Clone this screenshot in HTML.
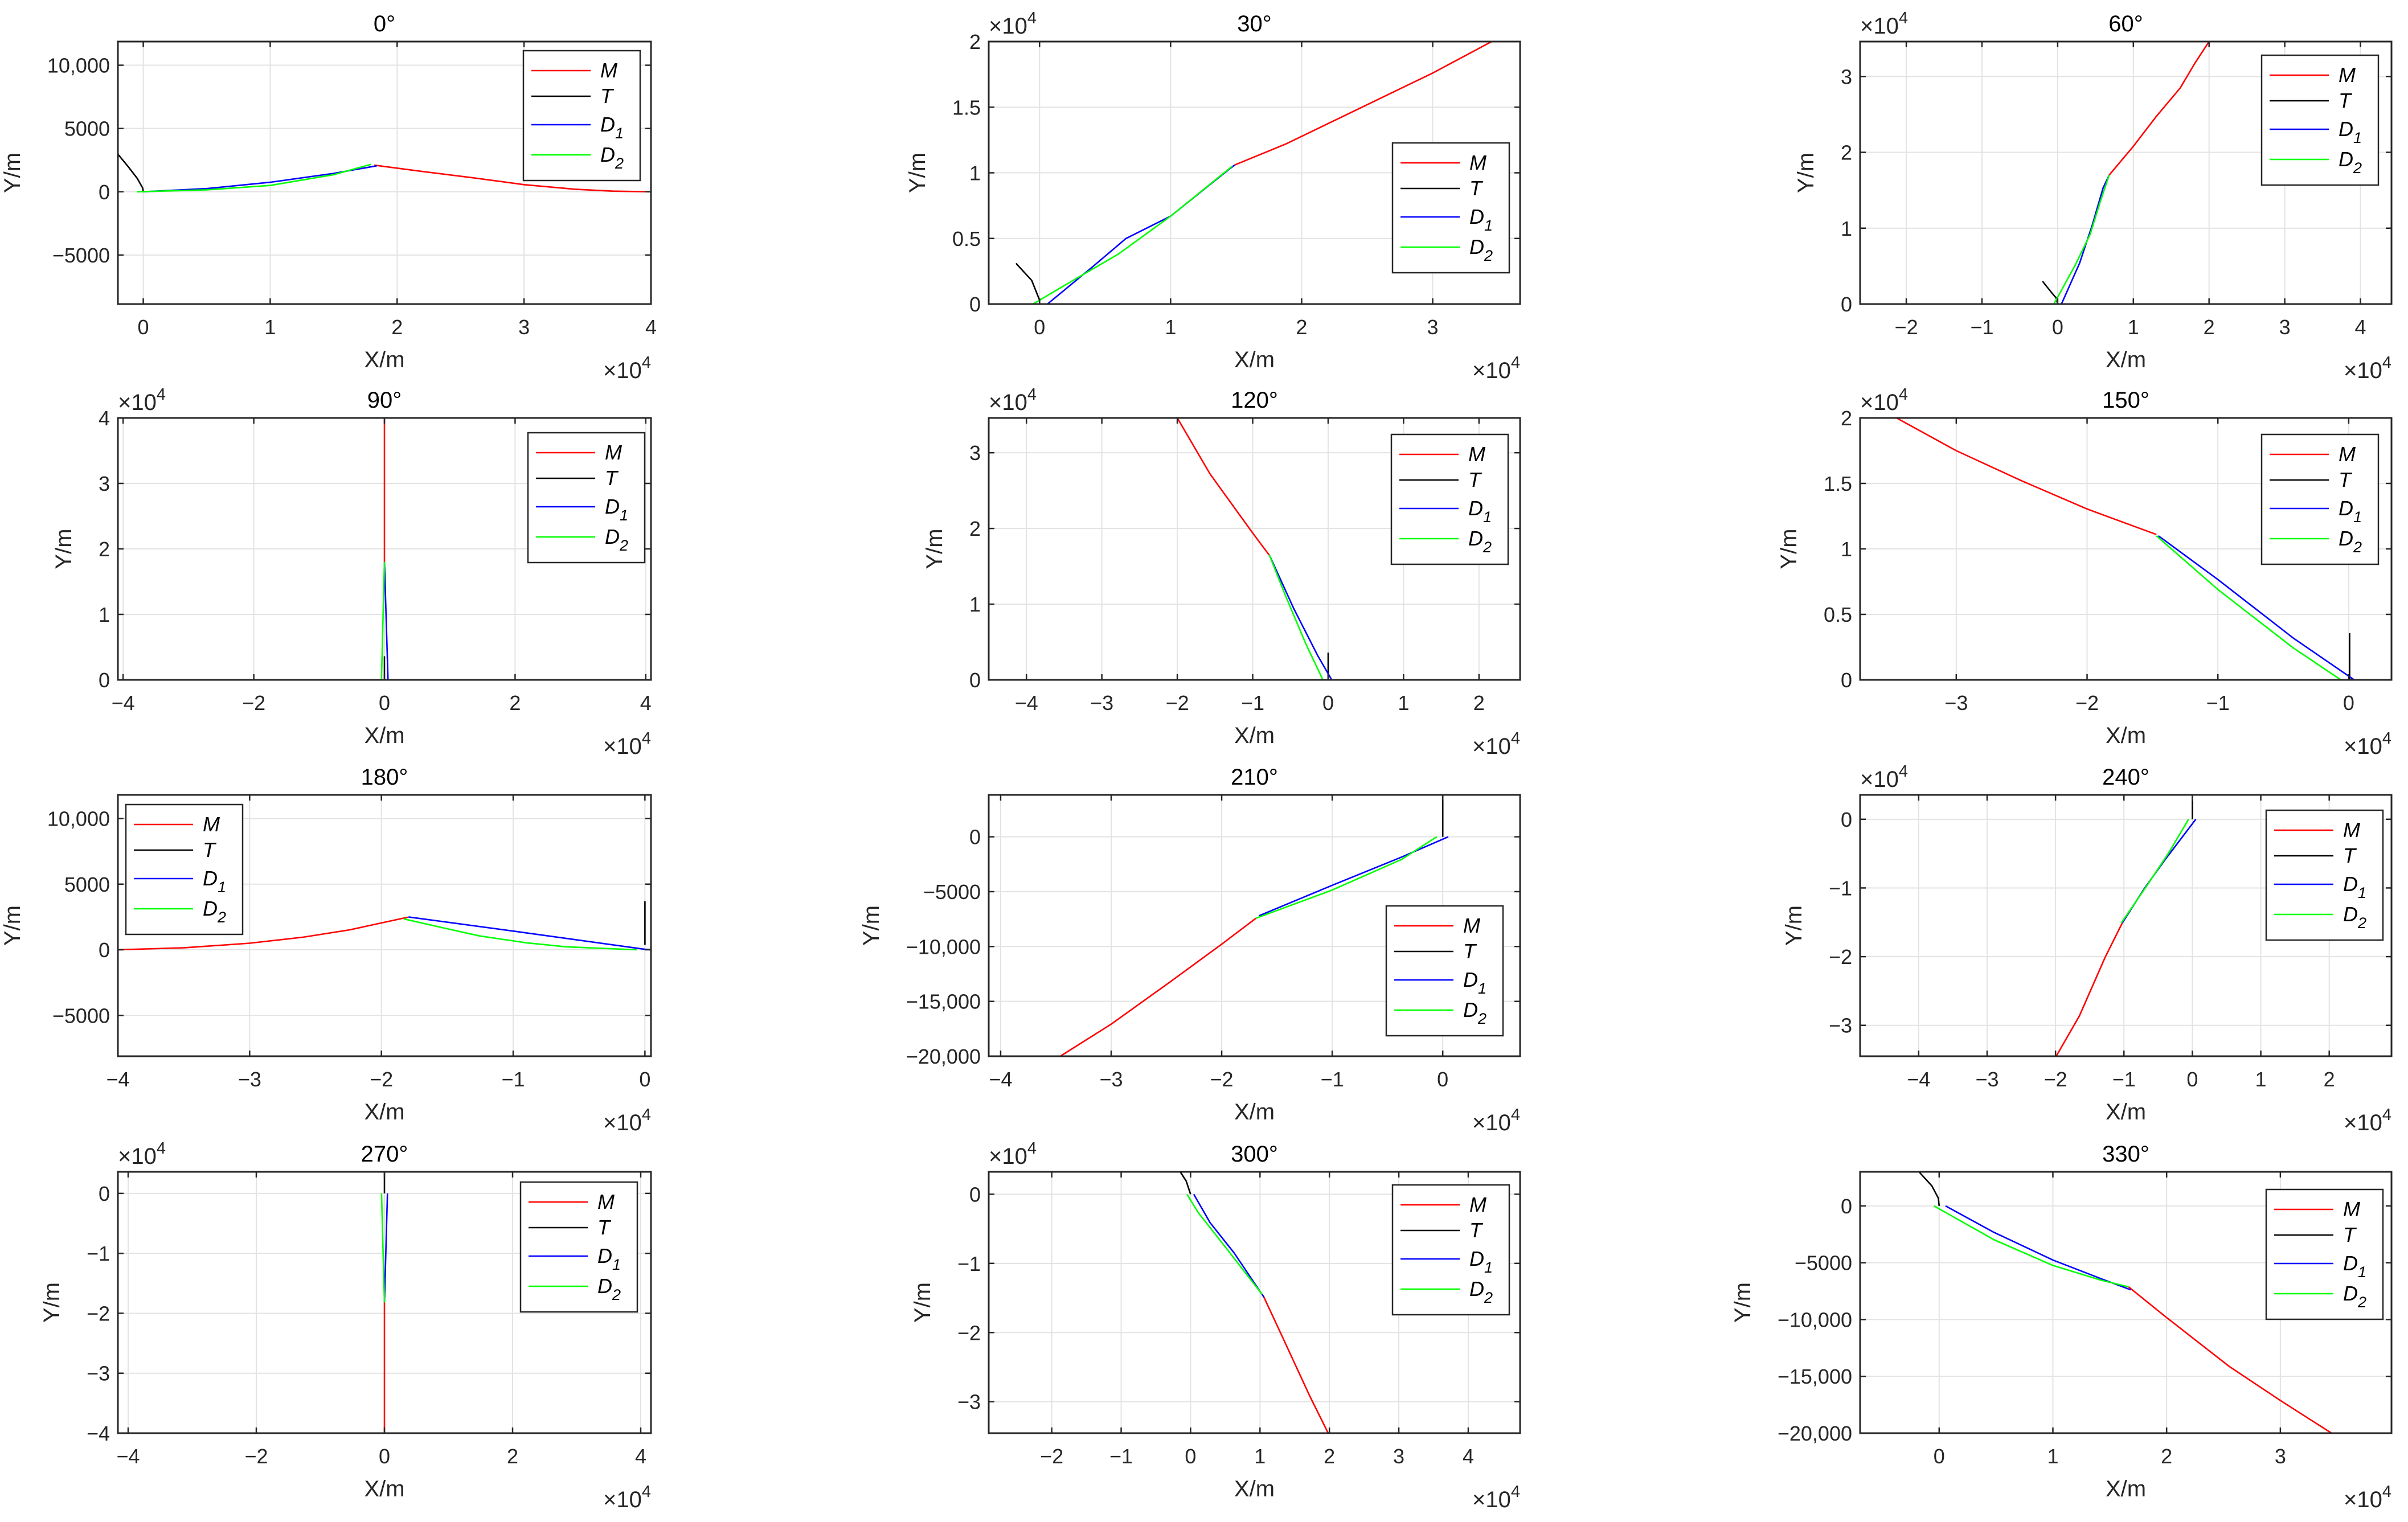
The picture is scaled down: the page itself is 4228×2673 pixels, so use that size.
<!DOCTYPE html>
<html><head><meta charset="utf-8"><title>Trajectories</title>
<style>
html,body{margin:0;padding:0;background:#fff;}
svg{display:block;font-family:"Liberation Sans",Arial,sans-serif;}
</style></head>
<body>
<svg id="fig" xmlns="http://www.w3.org/2000/svg" width="4228" height="2673" viewBox="0 0 4228 2673">
<rect x="0" y="0" width="4228" height="2673" fill="#fff"/>
</svg>
<script>
// ---- data (meters) ----
const M0=[[18200,2100],[22000,1600],[26000,1100],[30000,560],[34000,200],[37000,50],[40000,0]];
const T0=[[-2000,2970],[-1200,2000],[-480,1060],[-50,300],[0,0]];
const D1_0=[[0,0],[5000,250],[10000,750],[15000,1450],[18400,2050]];
const D2_0=[[-500,0],[5000,150],[10000,500],[15000,1350],[17960,2170]];

const M30=[[14900,10600],[18800,12200],[24600,15000],[30000,17600],[34500,20000]];
const T30=[[-1800,3100],[-600,1800],[0,300],[0,0]];
const D1_30=[[600,0],[4000,2800],[6600,5000],[10000,6700],[14500,10300],[14900,10600]];
const D2_30=[[-500,0],[1700,1300],[6000,3800],[10000,6700],[14700,10500]];

const M60=[[6800,17000],[10000,20800],[13000,24700],[16200,28500],[18100,31700],[20000,34600]];
const T60=[[-2000,3000],[-800,1500],[-200,800],[0,0]];
const D1_60=[[500,0],[2900,5400],[4600,10500],[6000,15300],[6800,17000]];
const D2_60=[[-500,0],[2300,5100],[4300,9200],[5600,13400],[6800,17000]];

const M90=[[0,18000],[0,40000]];
const T90=[[0,0],[0,3600]];
const D1_90=[[550,0],[0,18000]];
const D2_90=[[-450,0],[0,18000]];

const M120=[[-20000,34600],[-15660,27200],[-10000,19400],[-7830,16500]];
const T120=[[0,0],[0,3600]];
const D1_120=[[-7800,16500],[-4550,9400],[-1380,3200],[480,0]];
const D2_120=[[-7800,16500],[-5600,11000],[-2960,4750],[-690,0]];

const M150=[[-34570,20000],[-30000,17500],[-25000,15200],[-20000,13050],[-14700,11100]];
const T150=[[70,3570],[70,0]];
const D1_150=[[-14550,11000],[-10000,7660],[-4250,3200],[420,0]];
const D2_150=[[-14700,11000],[-10000,6900],[-4250,2450],[-600,0]];

const M180=[[-40000,0],[-35000,150],[-30000,500],[-26000,950],[-22400,1518],[-18000,2480]];
const T180=[[0,3700],[0,370]];
const D1_180=[[-17950,2500],[-10000,1425],[0,37],[460,0]];
const D2_180=[[-18300,2350],[-15000,1600],[-12550,1055],[-9000,530],[-5930,222],[-630,0]];

const M210=[[-34600,-20000],[-30000,-17080],[-24660,-13220],[-20000,-9785],[-16900,-7425]];
const T210=[[0,3730],[0,0]];
const D1_210=[[-16640,-7210],[-10000,-4420],[-3720,-1845],[500,0]];
const D2_210=[[-16900,-7425],[-10000,-4850],[-3720,-2060],[-540,0]];

const M240=[[-10250,-15100],[-12750,-20100],[-16500,-28600],[-19900,-34500]];
const T240=[[0,3550],[0,0]];
const D1_240=[[500,0],[-4000,-5900],[-7100,-10200],[-10250,-15100]];
const D2_240=[[-560,0],[-3400,-4800],[-6500,-9450],[-10400,-15100]];

const M270=[[0,-18200],[0,-40000]];
const T270=[[0,0],[0,3600]];
const D1_270=[[470,0],[0,-18200]];
const D2_270=[[-450,0],[0,-18200]];

const M300=[[10460,-14650],[13160,-20470],[17180,-29200],[19830,-34550]];
const T300=[[-1490,3240],[-630,1900],[0,0]];
const D1_300=[[460,0],[2800,-4100],[6260,-8470],[10570,-14900]];
const D2_300=[[-520,0],[1100,-2650],[5100,-7750],[10300,-14470]];

const M330=[[16650,-7124],[20000,-9828],[25500,-14120],[30000,-17124],[34500,-20000]];
const T330=[[-1770,3000],[-640,1760],[-75,690],[0,0]];
const D1_330=[[560,0],[4800,-2318],[10000,-4764],[14200,-6395],[16840,-7382]];
const D2_330=[[-450,0],[4800,-2961],[10000,-5236],[14200,-6524],[16650,-7124]];

// tick values (display units; ×1e4 when exp flag set)
const xt0=[0,1,2,3,4], yt0=[-5000,0,5000,10000];
const xt30=[0,1,2,3], yt30=[0,0.5,1,1.5,2];
const xt60=[-2,-1,0,1,2,3,4], yt60=[0,1,2,3];
const xt90=[-4,-2,0,2,4], yt90=[0,1,2,3,4];
const xt120=[-4,-3,-2,-1,0,1,2], yt120=[0,1,2,3];
const xt150=[-3,-2,-1,0], yt150=[0,0.5,1,1.5,2];
const xt180=[-4,-3,-2,-1,0], yt180=[-5000,0,5000,10000];
const xt210=[-4,-3,-2,-1,0], yt210=[-20000,-15000,-10000,-5000,0];
const xt240=[-4,-3,-2,-1,0,1,2], yt240=[-3,-2,-1,0];
const xt270=[-4,-2,0,2,4], yt270=[-4,-3,-2,-1,0];
const xt300=[-2,-1,0,1,2,3,4], yt300=[-3,-2,-1,0];
const xt330=[0,1,2,3], yt330=[-20000,-15000,-10000,-5000,0];

const titles=["0°","30°","60°","90°","120°","150°","180°","210°","240°","270°","300°","330°"];

// ---- layout (geometry, not data) ----
const C=[[207,1143],[1736,2669],[3266,4199]];
const R=[[73,534],[734,1194],[1396,1855],[2058,2517]];
const panels=[
 {s:[M0,T0,D1_0,D2_0],xt:xt0,yt:yt0,ye:false,xr:[-2000,40000],yr:[-8876,11870],c:0,r:0,lg:[919,89]},
 {s:[M30,T30,D1_30,D2_30],xt:xt30,yt:yt30,ye:true,xr:[-3880,36670],yr:[0,20000],c:1,r:0,lg:[2445,251]},
 {s:[M60,T60,D1_60,D2_60],xt:xt60,yt:yt60,ye:true,xr:[-26100,44100],yr:[0,34600],c:2,r:0,lg:[3971,97]},
 {s:[M90,T90,D1_90,D2_90],xt:xt90,yt:yt90,ye:true,xr:[-40800,40800],yr:[0,40000],c:0,r:1,lg:[927,760]},
 {s:[M120,T120,D1_120,D2_120],xt:xt120,yt:yt120,ye:true,xr:[-45000,25450],yr:[0,34600],c:1,r:1,lg:[2443,763]},
 {s:[M150,T150,D1_150,D2_150],xt:xt150,yt:yt150,ye:true,xr:[-37350,3270],yr:[0,20000],c:2,r:1,lg:[3971,763]},
 {s:[M180,T180,D1_180,D2_180],xt:xt180,yt:yt180,ye:false,xr:[-40000,460],yr:[-8111,11800],c:0,r:2,lg:[221,1413]},
 {s:[M210,T210,D1_210,D2_210],xt:xt210,yt:yt210,ye:false,xr:[-41080,7000],yr:[-20000,3820],c:1,r:2,lg:[2434,1591]},
 {s:[M240,T240,D1_240,D2_240],xt:xt240,yt:yt240,ye:true,xr:[-48560,29100],yr:[-34500,3550],c:2,r:2,lg:[3979,1423]},
 {s:[M270,T270,D1_270,D2_270],xt:xt270,yt:yt270,ye:true,xr:[-41600,41600],yr:[-40000,3600],c:0,r:3,lg:[914,2076]},
 {s:[M300,T300,D1_300,D2_300],xt:xt300,yt:yt300,ye:true,xr:[-29080,47470],yr:[-34550,3240],c:1,r:3,lg:[2445,2081]},
 {s:[M330,T330,D1_330,D2_330],xt:xt330,yt:yt330,ye:false,xr:[-6950,39770],yr:[-20000,3000],c:2,r:3,lg:[3979,2089]}
];
const colors=["#ff0000","#000000","#0000ff","#00ff00"];
const snames=["M","T","D1","D2"];
const NS="http://www.w3.org/2000/svg";
const svg=document.getElementById('fig');
function mk(tag,attrs,parent){const e=document.createElementNS(NS,tag);for(const k in attrs)e.setAttribute(k,attrs[k]);(parent||svg).appendChild(e);return e;}
function fmt(v){const a=Math.abs(v);let s=a>=10000?a.toLocaleString('en-US'):String(a);return (v<0?"\u2212":"")+s;}
function tw(s){let w=0;for(const ch of s){w+= (ch==','||ch=='.')?10:(ch=='\u2212'?21:20);}return w;}

panels.forEach((p,i)=>{
 const l=C[p.c][0],r=C[p.c][1],t=R[p.r][0],b=R[p.r][1];
 const sx=v=>l+(v-p.xr[0])/(p.xr[1]-p.xr[0])*(r-l);
 const sy=v=>b-(v-p.yr[0])/(p.yr[1]-p.yr[0])*(b-t);
 const g=mk('g',{});
 
 
 const xm=1e4, ym=p.ye?1e4:1;
 p.xt.forEach(v=>{const x=sx(v*xm);const ln=mk('line',{x1:x,x2:x,y1:t,y2:b,stroke:'#e3e3e3','stroke-width':2},g);
  });
 p.yt.forEach(v=>{const y=sy(v*ym);const ln=mk('line',{x1:l,x2:r,y1:y,y2:y,stroke:'#e3e3e3','stroke-width':2},g);
  });
 const cp=mk('clipPath',{id:'cp'+i},g);mk('rect',{x:l,y:t,width:r-l,height:b-t},cp);
 p.s.forEach((pts,k)=>{
  const d=pts.map(q=>sx(q[0]).toFixed(1)+','+sy(q[1]).toFixed(1)).join(' ');
  const pl=mk('polyline',{points:d,fill:'none',stroke:colors[k],'stroke-width':2.6,'stroke-linejoin':'round','clip-path':'url(#cp'+i+')'},g);
  
  
 });
 const bx=mk('rect',{x:l,y:t,width:r-l,height:b-t,fill:'none',stroke:'#262626','stroke-width':3},g);
 
 p.xt.forEach(v=>{const x=sx(v*xm);
  mk('line',{x1:x,x2:x,y1:b,y2:b-10,stroke:'#262626','stroke-width':2.5},g);
  mk('line',{x1:x,x2:x,y1:t,y2:t+10,stroke:'#262626','stroke-width':2.5},g);
  const tx=mk('text',{x:x,y:b+53,'font-size':36,fill:'#262626','text-anchor':'middle'},g);tx.textContent=fmt(v);
  });
 let mw=0;
 p.yt.forEach(v=>{const y=sy(v*ym);
  mk('line',{x1:l,x2:l+10,y1:y,y2:y,stroke:'#262626','stroke-width':2.5},g);
  mk('line',{x1:r,x2:r-10,y1:y,y2:y,stroke:'#262626','stroke-width':2.5},g);
  const s=fmt(v);mw=Math.max(mw,tw(s));
  const tx=mk('text',{x:l-14,y:y+13,'font-size':36,fill:'#262626','text-anchor':'end'},g);tx.textContent=s;
  });
 const xl=mk('text',{x:(l+r)/2,y:b+111,'font-size':40,fill:'#262626','text-anchor':'middle'},g);xl.textContent='X/m';
 
 const yx=l-14-mw-48;
 const yl=mk('text',{x:yx,y:(t+b)/2,'font-size':40,fill:'#262626','text-anchor':'middle',transform:'rotate(-90 '+yx+' '+(t+b)/2+')'},g);yl.textContent='Y/m';
 
 const ti=mk('text',{x:(l+r)/2,y:t-18,'font-size':40,fill:'#000','text-anchor':'middle'},g);ti.textContent=titles[i];
 
 const xe=mk('text',{x:r,y:b+130,'font-size':40,fill:'#262626','text-anchor':'end'},g);
 xe.innerHTML='×10<tspan font-size="29" dy="-18">4</tspan>';
 
 if(p.ye){const ye=mk('text',{x:l,y:t-14,'font-size':40,fill:'#262626'},g);
  ye.innerHTML='×10<tspan font-size="29" dy="-18">4</tspan>';
  }
 const lx=p.lg[0],ly=p.lg[1];
 const lg=mk('g',{},g);
 
 mk('rect',{x:lx,y:ly,width:205,height:228,fill:'#fff',stroke:'#262626','stroke-width':2.5},lg);
 const rows=[35,80,130,183];
 snames.forEach((n,k)=>{const yy=ly+rows[k];
  const le=mk('g',{},lg);
  
  mk('line',{x1:lx+14,x2:lx+118,y1:yy,y2:yy,stroke:colors[k],'stroke-width':2.6},le);
  const tx=mk('text',{x:lx+135,y:yy+12,'font-size':36,'font-style':'italic',fill:'#000'},le);
  if(n.length>1)tx.innerHTML='D<tspan font-size="27" dy="12">'+n[1]+'</tspan>';else tx.textContent=n;});
});
</script>
</body></html>
